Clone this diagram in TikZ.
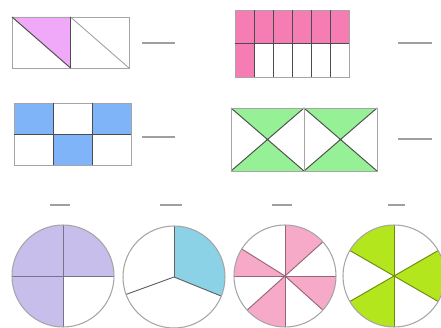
\documentclass[tikz,border=0pt]{standalone}
\usetikzlibrary{calc}
\definecolor{edge}{RGB}{165,165,165}
\definecolor{orchid}{RGB}{240,168,248}
\definecolor{rose}{RGB}{245,125,180}
\definecolor{sky}{RGB}{128,180,248}
\definecolor{mint}{RGB}{150,240,150}
\definecolor{lilac}{RGB}{200,190,235}
\definecolor{cyanish}{RGB}{140,210,230}
\definecolor{blush}{RGB}{247,170,200}
\definecolor{lime}{RGB}{180,230,30}
\tikzset{
  frame/.style={draw=edge,line width=0.8pt},
  inner/.style={draw=#1!60!black,line width=0.8pt},
  inner/.default=edge,
  blank/.style={draw=gray!75,line width=1.3pt},
  wheel/.style={draw=edge,line width=0.9pt},
}

\begin{document}
\begin{tikzpicture}[x=0.03cm,y=0.03cm]
  \useasboundingbox (0,0) rectangle (441,327);
  % halves cut by diagonals
  \fill[orchid] (12,310) -- (70.5,310) -- (70.5,259) -- cycle;
  \draw[frame] (12,259) rectangle (129,310);
  \draw[frame] (70.5,310) -- (129,259);
  \draw[inner=gray] (70.5,259) -- (70.5,310) (12,310) -- (70.5,259);
  \draw[blank] (142,284) -- (175,284);

  % twelfths
  \foreach \i in {0,...,5} \fill[rose] (235+19*\i,284) rectangle +(19,33);
  \fill[rose] (235,250) rectangle (254,284);
  \draw[frame] (235,250) rectangle (349,317);
  \foreach \x in {254,273,292,311,330} \draw[inner=gray] (\x,250) -- (\x,317);
  \draw[inner=gray] (235,284) -- (349,284);
  \draw[blank] (398,284) -- (432,284);

  % sixths
  \foreach \x/\y in {14/193,92/193,53/162} \fill[sky] (\x,\y) rectangle +(39,31);
  \draw[frame] (14,162) rectangle (131,224);
  \draw[inner=gray] (53,162) -- (53,224) (92,162) -- (92,224) (14,193) -- (131,193);
  \draw[blank] (142,190) -- (175,190);

  % quarters of two squares
  \foreach \x in {231,304} {
    \fill[mint] (\x,219) -- (\x+73,219) -- (\x+36.5,187.5) -- cycle;
    \fill[mint] (\x,156) -- (\x+73,156) -- (\x+36.5,187.5) -- cycle;
    \draw[inner=gray] (\x,219) -- (\x+73,156) (\x,156) -- (\x+73,219);
  }
  \draw[frame] (231,156) rectangle (377,219);
  \draw[frame] (304,156) -- (304,219);
  \draw[blank] (398,188) -- (432,188);

  % circles
  \coordinate (c1) at (63,51);
  \coordinate (c2) at (174,50);
  \coordinate (c3) at (285,51);
  \coordinate (c4) at (394,51);
  \fill[lilac] (c1) -- ++(0:51) arc[start angle=0,end angle=270,radius=51] -- cycle;
  \fill[cyanish] (c2) -- ++(-22:51) arc[start angle=-22,end angle=90,radius=51] -- cycle;
  \foreach \a/\b in {42/90,148/180,222/270,318/360}
    \fill[blush] (c3) -- ++(\a:51) arc[start angle=\a,end angle=\b,radius=51] -- cycle;
  \foreach \a/\b in {90/150,-30/30,210/270}
    \fill[lime] (c4) -- ++(\a:51) arc[start angle=\a,end angle=\b,radius=51] -- cycle;
  \foreach \a in {0,90,180,270} \draw[inner=lilac] (c1) -- ++(\a:51);
  \foreach \a in {90,200,338} \draw[inner=edge] (c2) -- ++(\a:51);
  \foreach \a in {0,42,90,148,180,222,270,318} \draw[inner=blush] (c3) -- ++(\a:51);
  \foreach \a in {30,90,150,210,270,330} \draw[inner=lime] (c4) -- ++(\a:51);
  \foreach \c in {c1,c2,c3,c4} \draw[wheel] (\c) circle[radius=51];
  \foreach \x/\w in {50/20,160/22,272/20,388/17} \draw[blank] (\x,122) -- +(\w,0);
\end{tikzpicture}
\end{document}
